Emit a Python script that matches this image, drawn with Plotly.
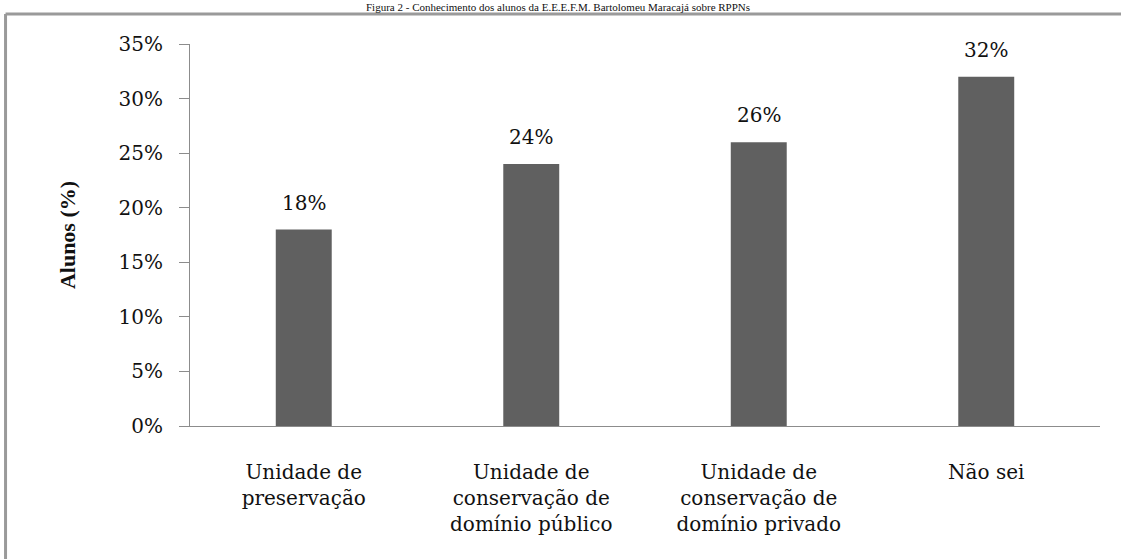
import plotly.graph_objects as go

# Survey answers: what students understand by RPPN
categories = [
    "Unidade de<br>preservação",
    "Unidade de<br>conservação de<br>domínio público",
    "Unidade de<br>conservação de<br>domínio privado",
    "Não sei",
]
percentages = [18, 24, 26, 32]
tick_values = [0, 5, 10, 15, 20, 25, 30, 35]
tick_labels = [f"{v}%" for v in tick_values]
caption = "Figura 2 - Conhecimento dos alunos da E.E.E.F.M. Bartolomeu Maracajá sobre RPPNs"

serif = "DejaVu Serif"
bar_color = "#606060"
frame_color = "#9a9a9a"
text_color = "#111111"

fig = go.Figure(
    go.Bar(
        x=categories,
        y=percentages,
        marker=dict(color=bar_color, line=dict(width=0)),
        hoverinfo="x+y",
    )
)

# Value labels above each bar
for cat, val in zip(categories, percentages):
    fig.add_annotation(
        x=cat, y=val, xref="x", yref="y",
        text=f"{val}%",
        showarrow=False,
        xanchor="center", yanchor="bottom",
        yshift=13,
        font=dict(family=serif, size=20, color=text_color),
    )

fig.update_layout(
    width=1121,
    height=559,
    margin=dict(l=190, r=21, t=44, b=133),
    paper_bgcolor="white",
    plot_bgcolor="white",
    bargap=0.754,
    showlegend=False,
    font=dict(family=serif, color=text_color),
)

fig.update_yaxes(
    range=[0, 35],
    tickvals=tick_values,
    ticktext=tick_labels,
    tickfont=dict(family=serif, size=20, color=text_color),
    showgrid=False,
    zeroline=False,
    showline=True,
    linecolor="#8c8c8c",
    linewidth=1,
    ticks="outside",
    ticklen=10,
    tickcolor="#8c8c8c",
    ticklabelstandoff=12,
    title=dict(
        text="<b>Alunos (%)</b>",
        font=dict(family="Liberation Serif", size=22, color=text_color),
        standoff=36,
    ),
)

fig.update_xaxes(
    tickfont=dict(family=serif, size=20, color=text_color),
    showgrid=False,
    showline=True,
    linecolor="#8c8c8c",
    linewidth=1,
    ticks="",
    ticklabelstandoff=28,
)

# Outer frame of the figure (top and left edges)
fig.add_shape(type="line", xref="paper", yref="paper",
              x0=-0.2027, x1=1.03, y0=1.0785, y1=1.0785,
              line=dict(color=frame_color, width=3))
fig.add_shape(type="line", xref="paper", yref="paper",
              x0=-0.2027, x1=-0.2027, y0=1.0785, y1=-0.36,
              line=dict(color=frame_color, width=3))

# Figure caption above the frame
fig.add_annotation(
    text=caption,
    xref="paper", yref="paper",
    x=0.404, y=1.0975,
    xanchor="center", yanchor="middle",
    showarrow=False,
    borderpad=0,
    font=dict(family="Liberation Serif", size=11, color=text_color),
)

fig.write_html("out.html")
